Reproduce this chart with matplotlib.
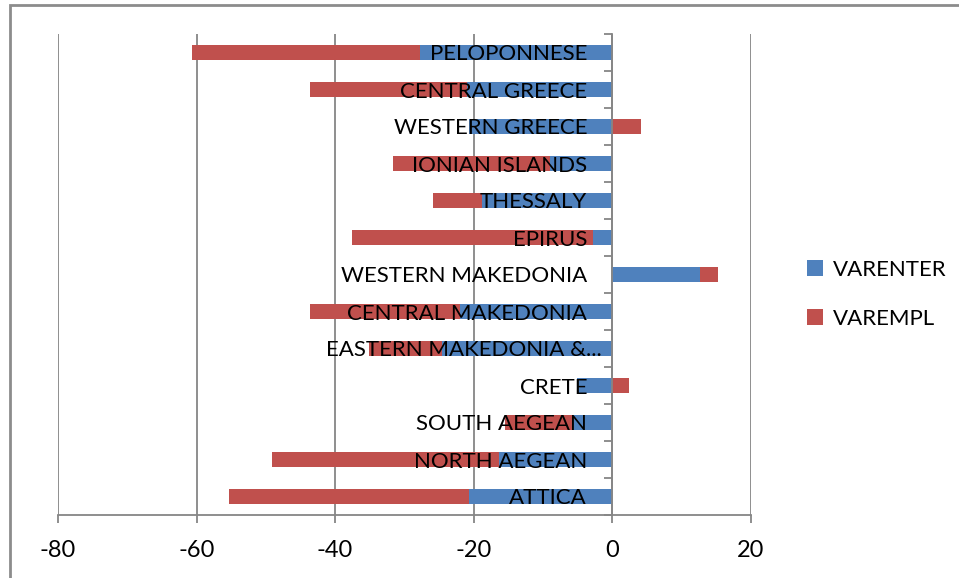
import numpy as np
import matplotlib
matplotlib.use("Agg")
import matplotlib.pyplot as plt
from matplotlib.patches import Rectangle
from matplotlib.ticker import FixedLocator, NullFormatter
from matplotlib.transforms import ScaledTranslation

categories = ["PELOPONNESE", "CENTRAL GREECE", "WESTERN GREECE", "IONIAN ISLANDS",
              "THESSALY", "EPIRUS", "WESTERN MAKEDONIA", "CENTRAL MAKEDONIA",
              "EASTERN MAKEDONIA &...", "CRETE", "SOUTH AEGEAN", "NORTH AEGEAN", "ATTICA"]
varenter = [-27.8, -21.0, -20.7, -9.0, -18.8, -2.7, 12.7, -21.9, -24.5, -5.1, -5.6, -16.4, -20.6]
varempl = [-32.9, -22.6, 4.1, -22.7, -7.0, -34.9, 2.55, -21.7, -10.6, 2.5, -9.8, -32.7, -34.7]
xticks = [-80, -60, -40, -20, 0, 20]

BLUE = "#4F81BD"
RED = "#C0504D"
GRID = "#868686"
FONT = "Lato"
FS = 16

plt.rcParams['font.family'] = [FONT, 'DejaVu Sans']

W, H = 959, 578
fig = plt.figure(figsize=(W / 100, H / 100), dpi=100)
ax = fig.add_axes([58 / W, 1 - 515 / H, (750.7 - 58) / W, (515 - 34) / H])

for s in ["top", "right"]:
    ax.spines[s].set_visible(False)
ax.spines["left"].set_position(("data", 0))
ax.spines["left"].set_color(GRID)
ax.spines["left"].set_linewidth(1.3)
ax.spines["bottom"].set_color(GRID)
ax.spines["bottom"].set_linewidth(1.3)

y = np.arange(len(categories))
enter = np.array(varenter)
empl = np.array(varempl)
left_empl = np.where(np.sign(enter) == np.sign(empl), enter, 0.0)

ax.vlines(xticks, -0.5, len(categories) - 0.5, colors=GRID, linewidth=1.3, zorder=0)
ax.barh(y, enter, height=0.4, color=BLUE, label="VARENTER", zorder=1)
ax.barh(y, empl, left=left_empl, height=0.4, color=RED, label="VAREMPL", zorder=1)

ax.set_xlim(xticks[0], xticks[-1])
ax.set_ylim(len(categories) - 0.5, -0.5)
ax.set_xticks(xticks)
ax.set_xticklabels([str(t) for t in xticks])
ax.set_yticks(y)
ax.set_yticklabels(categories)
ax.yaxis.set_minor_locator(FixedLocator(np.arange(len(categories) + 1) - 0.5))
ax.yaxis.set_minor_formatter(NullFormatter())

ax.tick_params(axis="y", which="major", length=0, pad=18, labelsize=FS)
ax.tick_params(axis="y", which="minor", length=5.8, width=1.3, color=GRID, direction="out")
ax.tick_params(axis="x", which="major", length=5.8, width=1.3, color=GRID, direction="out",
               pad=12, labelsize=FS + 1)

# the truncated label sits a little closer to the axis in the original
for lbl in ax.get_yticklabels():
    if lbl.get_text().endswith("..."):
        lbl.set_transform(lbl.get_transform() + ScaledTranslation(0.15, 0, fig.dpi_scale_trans))

ax.legend(loc="upper left", bbox_to_anchor=(807 / W, 1 - 260 / H), bbox_transform=fig.transFigure,
          frameon=False, fontsize=FS, handlelength=0.7, handleheight=0.7,
          handletextpad=0.45, labelspacing=1.3, borderaxespad=0, borderpad=0)

frame = Rectangle((10, -20), W + 50, H - 5 + 20, transform=None, fill=False,
                  edgecolor="#8C8C8C", linewidth=2)
fig.add_artist(frame)

fig.savefig("out.png", dpi=100)
